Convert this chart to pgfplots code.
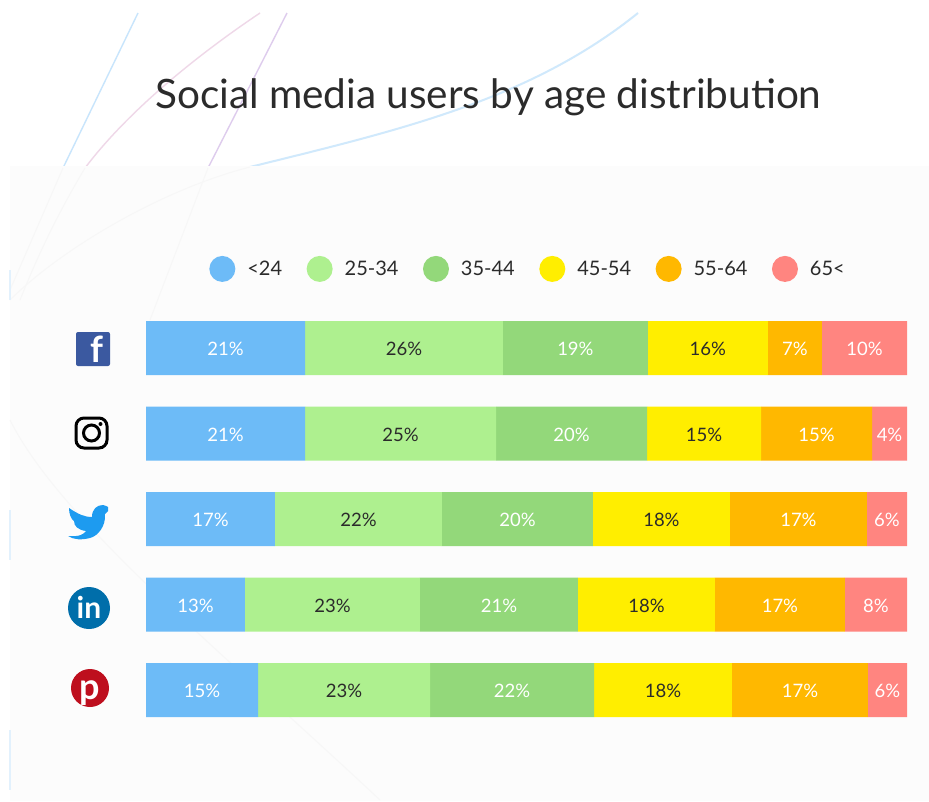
\documentclass[border=0pt]{standalone}
\usepackage{fontspec}
\setmainfont{Lato}
\usepackage{pgfplots}
\usepackage{pgfplotstable}
\pgfplotsset{compat=1.18}
\definecolor{cA}{HTML}{6DBBF7}
\definecolor{cB}{HTML}{AEF08F}
\definecolor{cC}{HTML}{93D87A}
\definecolor{cD}{HTML}{FFEE00}
\definecolor{cE}{HTML}{FFB800}
\definecolor{cF}{HTML}{FF8580}
\definecolor{ink}{HTML}{2B2B2B}
\pgfplotstableread{
y a la b lb c lc d ld e le f lf
0 20.9 21\% 26.0 26\% 19.05 19\% 15.77 16\% 7.1 7\% 11.18 10\%
1 20.9 21\% 25.1 25\% 19.84 20\% 14.98 15\% 14.59 15\% 4.59 4\%
2 16.95 17\% 21.94 22\% 19.84 20\% 18.0 18\% 18.0 17\% 5.27 6\%
3 13.0 13\% 23.0 23\% 20.76 21\% 18.0 18\% 17.08 17\% 8.16 8\%
4 14.72 15\% 22.6 23\% 21.55 22\% 18.13 18\% 17.87 17\% 5.13 6\%
}\datatable
\begin{document}
\begin{tikzpicture}
\path[use as bounding box] (0pt,0pt) rectangle (929pt,-801pt);
\begin{scope}[x=1pt,y=-1pt]
\fill[white] (0,0) rectangle (929,801);
% decorative background lines
\draw[line width=1.4pt,color=cA!38] (138,13) -- (63,168);
\draw[line width=1.4pt,color=cF!30!violet!18] (260,13) .. controls (190,60) and (125,115) .. (85,168);
\draw[line width=1.4pt,color=blue!30!violet!20] (287,13) -- (208,168);
\draw[line width=2pt,color=cA!32] (638,13) .. controls (530,100) and (400,130) .. (250,167);
\fill[black!1] (10,166) rectangle (929,801);
\begin{scope}[line width=1pt,color=black!3]
\draw (63,168) -- (10,290);
\draw (85,168) .. controls (60,210) and (40,250) .. (20,300);
\draw (208,168) -- (150,320);
\draw (250,167) .. controls (160,190) and (60,250) .. (10,300);
\draw (10,420) .. controls (60,520) and (220,650) .. (380,800);
\end{scope}
\draw[line width=1.5pt,color=cA!20] (10,270) -- (10,300);
\draw[line width=1.5pt,color=cA!20] (10,510) -- (10,560);
\draw[line width=1.5pt,color=cA!20] (10,730) -- (10,790);
\node[anchor=base west,inner sep=0pt,font=\fontsize{40.5}{40.5}\selectfont,text=ink] at (155,108) {Social media users by age distribution};
\end{scope}
\begin{axis}[
  at={(146pt,-732.75pt)}, anchor=south west,
  scale only axis, width=761pt, height=427.5pt,
  hide axis, clip=false,
  y dir=reverse,
  xbar stacked, bar width=54pt,
  xmin=0, xmax=100, ymin=-0.5, ymax=4.5,
  nodes near coords,
  point meta=explicit symbolic,
  nodes near coords style={font=\fontsize{18.5}{18.5}\selectfont,yshift=-1pt},
  legend columns=6,
  legend style={at={(0.083,1.085)},anchor=west,draw=none,fill=none,
    font=\fontsize{20}{20}\selectfont,text=ink,inner sep=0pt,
    /tikz/every odd column/.append style={column sep=10pt},
    /tikz/every even column/.append style={column sep=22.5pt}},
  legend cell align=left,
  legend image code/.code={\fill[#1] (0pt,0pt) circle (13pt);},
]
\addplot[draw=none,fill=cA,nodes near coords style={text=white}] table[x=a,y=y,meta=la]{\datatable};
\addplot[draw=none,fill=cB,nodes near coords style={text=ink}] table[x=b,y=y,meta=lb]{\datatable};
\addplot[draw=none,fill=cC,nodes near coords style={text=white}] table[x=c,y=y,meta=lc]{\datatable};
\addplot[draw=none,fill=cD,nodes near coords style={text=ink}] table[x=d,y=y,meta=ld]{\datatable};
\addplot[draw=none,fill=cE,nodes near coords style={text=white}] table[x=e,y=y,meta=le]{\datatable};
\addplot[draw=none,fill=cF,nodes near coords style={text=white}] table[x=f,y=y,meta=lf]{\datatable};
\legend{<24,25-34,35-44,45-54,55-64,65<}
\end{axis}
\begin{scope}[x=1pt,y=-1pt]
% Facebook
\fill[rounded corners=2pt,fill={rgb,255:red,59;green,89;blue,160}] (76,332) rectangle (110,366);
\node[text=white,font=\bfseries\fontsize{36}{36}\selectfont,anchor=base] at (97,362) {f};
% Instagram
\draw[line width=3pt,black,rounded corners=8pt] (76,418) rectangle (107,448);
\draw[line width=3pt,black] (91.5,433) circle (8pt);
\fill[black] (100.5,424) circle (2pt);
% Twitter
\fill[color={rgb,255:red,29;green,155;blue,240}] (68,536) .. controls (80,537) and (84,534) .. (86,531)
  .. controls (78,530) and (74,526) .. (74,521) .. controls (71,519) and (69,514) .. (69,508)
  .. controls (78,514) and (84,517) .. (92,517) .. controls (92,509) and (97,505) .. (103,505)
  .. controls (106,505) and (107,507) .. (108,507) -- (108,511) -- (105,514)
  .. controls (106,526) and (98,536) .. (90,538) .. controls (82,540) and (74,540) .. (68,536) -- cycle;
% LinkedIn
\fill[color={rgb,255:red,0;green,110;blue,170}] (89,608) circle (21pt);
\node[text=white,font=\bfseries\fontsize{30}{30}\selectfont,anchor=base] at (89,618) {in};
% Pinterest
\fill[color={rgb,255:red,190;green,15;blue,30}] (90,688) circle (19pt);
\node[text=white,font=\bfseries\fontsize{36}{36}\selectfont,anchor=base] at (90,699) {p};
\end{scope}
\end{tikzpicture}
\end{document}
